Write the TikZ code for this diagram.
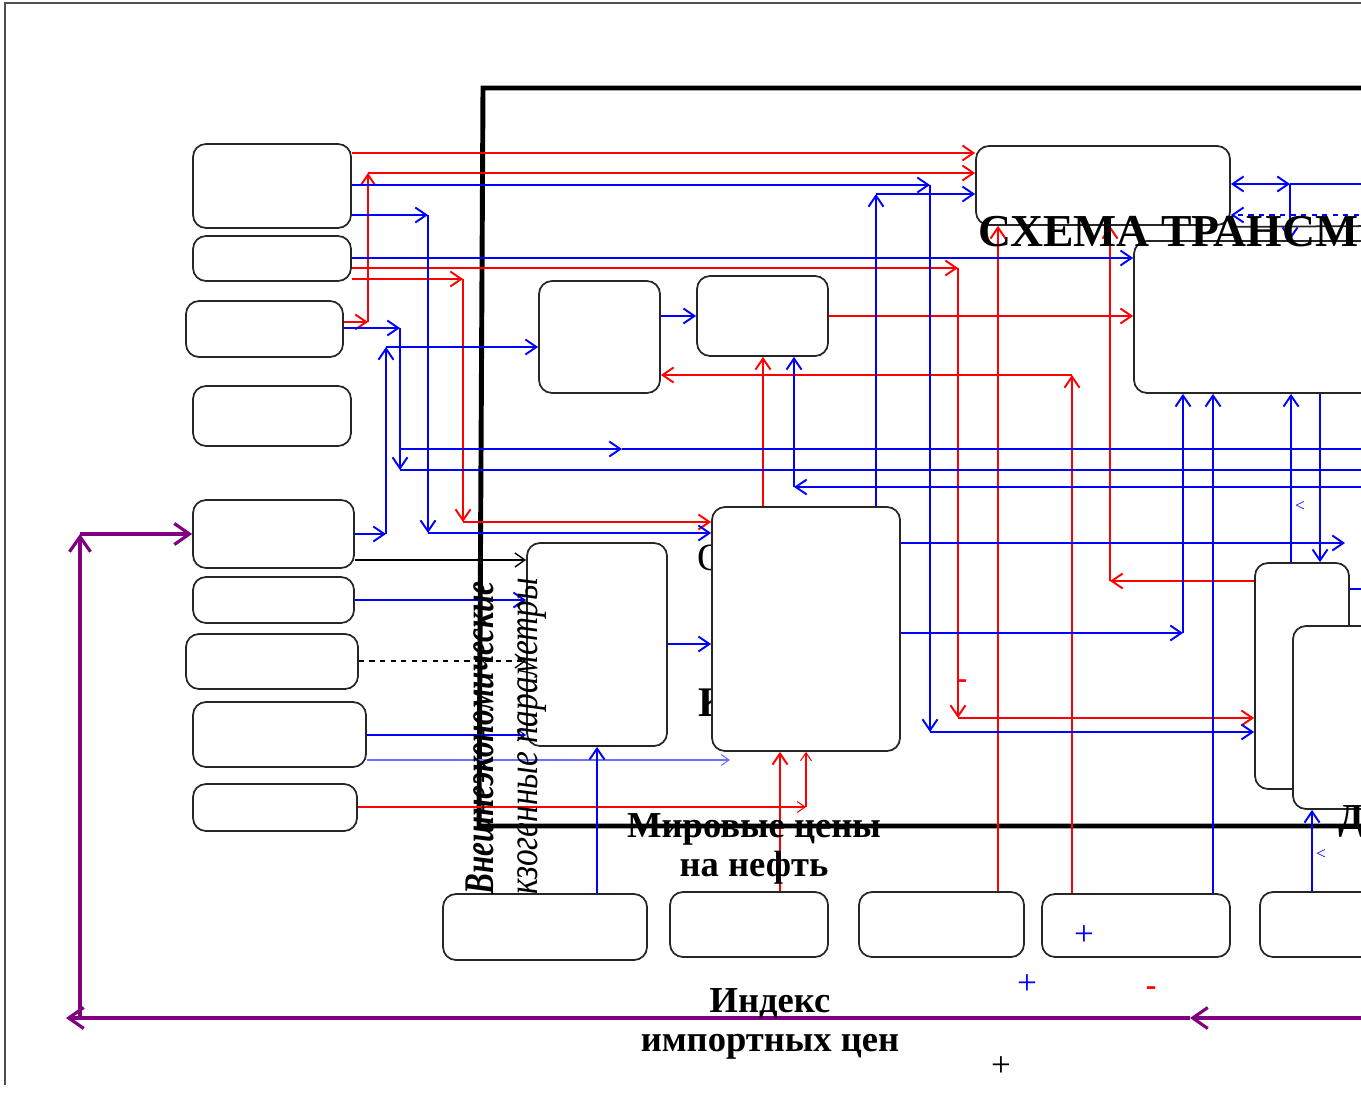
\documentclass[tikz,border=0pt]{standalone}
\usepackage{fontspec}
\setmainfont{Liberation Serif}
\newfontfamily\condA[FakeStretch=0.74]{Liberation Serif}
\newfontfamily\condB[FakeStretch=0.79]{Liberation Serif}
\usetikzlibrary{arrows.meta, fit, positioning}
\definecolor{linkRed}{RGB}{255,0,0}
\definecolor{linkBlue}{RGB}{0,0,255}
\definecolor{paleBlue}{RGB}{110,110,255}
\definecolor{loopPurple}{RGB}{128,0,128}
\definecolor{edgeGray}{RGB}{80,80,80}

\begin{document}
\begin{tikzpicture}[
  x=0.02cm, y=-0.02cm,
  block/.style={rectangle, rounded corners=0.26cm, draw=black!85, line width=1pt, fill=white, inner sep=0pt},
  redlink/.style={linkRed, line width=1.1pt, -{Straight Barb[length=2.2mm,width=3mm]}},
  bluelink/.style={linkBlue, line width=1.1pt, -{Straight Barb[length=2.2mm,width=3mm]}},
  plainlink/.style={black, line width=0.8pt, -{Straight Barb[length=2mm,width=2.8mm]}},
  thinlink/.style={line width=0.6pt, -{Straight Barb[length=1.6mm,width=2.2mm]}},
  feedback/.style={loopPurple, line width=1.8pt, -{Straight Barb[length=3mm,width=4.2mm]}},
  headline/.style={font=\fontsize{20.8}{22.5}\selectfont\bfseries, align=center, inner sep=0pt},
  signlabel/.style={font=\fontsize{20}{20}\selectfont, inner sep=0pt}
]
\useasboundingbox (0,0) rectangle (1361,1104);
\clip (0,0) rectangle (1361,1104);

% Text partly hidden behind the blocks
\node[font=\fontsize{22}{22}\selectfont, anchor=base west, inner sep=0pt] (hidO) at (697,570) {О};
\node[font=\fontsize{24}{24}\selectfont\bfseries, anchor=base west, inner sep=0pt] (hidK) at (698,716) {К};

% Blocks
\node (B1) [block, fit={(193,144) (351,228)}] {};
\node (B2) [block, fit={(193,236) (351,281)}] {};
\node (B3) [block, fit={(186,301) (343,357)}] {};
\node (B4) [block, fit={(193,386) (351,446)}] {};
\node (B5) [block, fit={(193,500) (354,568)}] {};
\node (B6) [block, fit={(193,577) (354,623)}] {};
\node (B7) [block, fit={(186,634) (358,689)}] {};
\node (B8) [block, fit={(193,702) (366,767)}] {};
\node (B9) [block, fit={(193,784) (357,831)}] {};
\node (M1) [block, fit={(539,281) (660,393)}] {};
\node (M2) [block, fit={(697,276) (828,356)}] {};
\node (M3) [block, fit={(527,543) (667,746)}] {};
\node (M4) [block, fit={(712,507) (900,751)}] {};
\node (T1) [block, fit={(976,146) (1230,225)}] {};
\node (T2) [block, fit={(1134,241) (1420,393)}] {};
\node (R1) [block, fit={(1255,563) (1349,789)}] {};
\node (R2) [block, fit={(1293,626) (1420,809)}] {};
\node (D1) [block, fit={(443,894) (647,960)}] {};
\node (D2) [block, fit={(670,892) (828,957)}] {};
\node (D3) [block, fit={(859,892) (1024,957)}] {};
\node (D4) [block, fit={(1042,894) (1230,957)}] {};
\node (D5) [block, fit={(1260,892) (1420,957)}] {};

% Frames
\draw[edgeGray, line width=0.6pt] (5,1085) -- (5,3) -- (1380,3);
\draw[line width=2.8pt] (1380,88) -- (483,88) -- (479,826) -- (1380,826);
\draw[black!85, line width=1pt] (T1.south east) ++(0,1) -- (1380,226);

% Red links
\coordinate (rTop) at (660,153);
\draw[redlink] (B1.east |- rTop) -- (T1.west |- rTop);
\coordinate (rA1) at (368,322);
\coordinate (rA2) at (368,173);
\draw[redlink] (B3.east |- rA1) -- (rA1);
\draw[redlink] (rA1) -- (rA2);
\draw[redlink] (rA2) -- (T1.west |- rA2);
\coordinate (rB1) at (958,268);
\coordinate (rB2) at (958,718);
\draw[redlink] (B2.east |- rB1) -- (rB1);
\draw[redlink] (rB1) -- (rB2);
\draw[redlink] (rB2) -- (R1.west |- rB2);
\coordinate (rC1) at (463,279);
\coordinate (rC2) at (463,522);
\draw[redlink] (B2.east |- rC1) -- (rC1);
\draw[redlink] (rC1) -- (rC2);
\draw[redlink] (rC2) -- (M4.west |- rC2);
\coordinate (rD) at (932,316);
\draw[redlink] (M2.east |- rD) -- (T2.west |- rD);
\coordinate (rE) at (1110,581);
\draw[redlink] (R1.west |- rE) -- (rE);
\draw[redlink] (rE) -- (T1.south -| rE);
\coordinate (rF) at (998,560);
\draw[redlink] (D3.north -| rF) -- (T1.south -| rF);
\coordinate (rG) at (1072,375);
\draw[redlink] (D4.north -| rG) -- (rG);
\draw[redlink] (rG) -- (M1.east |- rG);
\coordinate (rH) at (763,430);
\draw[redlink] (M4.north -| rH) -- (M2.south -| rH);
\coordinate (rJ) at (780,800);
\draw[redlink] (D2.north -| rJ) -- (M4.south -| rJ);
\coordinate (rK) at (806,807);
\draw[redlink, thinlink] (B9.east |- rK) -- (rK);
\draw[redlink, thinlink] (rK) -- (M4.south -| rK);

% Blue links
\coordinate (bA1) at (930,185);
\coordinate (bA2) at (930,732);
\draw[bluelink] (B1.east |- bA1) -- (bA1);
\draw[bluelink] (bA1) -- (bA2);
\draw[bluelink] (bA2) -- (R1.west |- bA2);
\coordinate (bB) at (876,194);
\draw[bluelink] (M4.north -| bB) -- (bB);
\draw[bluelink] (bB) -- (T1.west |- bB);
\coordinate (bC1) at (428,215);
\coordinate (bC2) at (428,533);
\draw[bluelink] (B1.east |- bC1) -- (bC1);
\draw[bluelink] (bC1) -- (bC2);
\draw[bluelink] (bC2) -- (M4.west |- bC2);
\coordinate (bD) at (560,258);
\draw[bluelink] (B2.east |- bD) -- (T2.west |- bD);
\coordinate (bE1) at (400,328);
\coordinate (bE2) at (400,470);
\coordinate (bE3) at (400,449);
\coordinate (bE4) at (622,449);
\coordinate (bEnd1) at (1380,449);
\coordinate (bEnd2) at (1380,470);
\draw[bluelink] (B3.east |- bE1) -- (bE1);
\draw[bluelink] (bE1) -- (bE2);
\draw[bluelink] (bE3) -- (bE4);
\draw[bluelink, -] (bE4) -- (bEnd1);
\draw[bluelink, -] (bE2) -- (bEnd2);
\coordinate (bF1) at (386,534);
\coordinate (bF2) at (386,347);
\draw[bluelink] (B5.east |- bF1) -- (bF1);
\draw[bluelink] (bF1) -- (bF2);
\draw[bluelink] (bF2) -- (M1.west |- bF2);
\coordinate (bG) at (450,600);
\draw[bluelink] (B6.east |- bG) -- (M3.west |- bG);
\coordinate (kA) at (450,560);
\draw[plainlink] (B5.east |- kA) -- (M3.west |- kA);
\coordinate (kB) at (460,661);
\draw[plainlink, dashed] (B7.east |- kB) -- (M3.west |- kB);
\coordinate (bH) at (450,735);
\draw[bluelink, thinlink] (B8.east |- bH) -- (M3.west |- bH);
\coordinate (bI) at (730,760);
\draw[paleBlue, thinlink] (B8.east |- bI) -- (bI);
\coordinate (bJ) at (597,800);
\draw[bluelink] (D1.north -| bJ) -- (M3.south -| bJ);
\coordinate (bK) at (690,644);
\draw[bluelink] (M3.east |- bK) -- (M4.west |- bK);
\coordinate (bL) at (680,316);
\draw[bluelink] (M1.east |- bL) -- (M2.west |- bL);
\coordinate (bM) at (794,487);
\coordinate (bEnd3) at (1380,487);
\draw[bluelink] (bEnd3) -- (bM);
\draw[bluelink] (bM) -- (M2.south -| bM);
\coordinate (bN) at (1345,543);
\draw[bluelink] (M4.east |- bN) -- (bN);
\coordinate (bO) at (1183,633);
\draw[bluelink] (M4.east |- bO) -- (bO);
\draw[bluelink] (bO) -- (T2.south -| bO);
\coordinate (bP) at (1213,640);
\draw[bluelink] (D4.north -| bP) -- (T2.south -| bP);
\coordinate (bQ) at (1291,480);
\draw[bluelink] (R1.north -| bQ) -- (T2.south -| bQ);
\coordinate (bR) at (1320,480);
\draw[bluelink] (T2.south -| bR) -- (R1.north -| bR);
\coordinate (bS) at (1380,589);
\draw[bluelink, -] (R1.east |- bS) -- (bS);
\coordinate (bT) at (1312,850);
\draw[bluelink] (D5.north -| bT) -- (R2.south -| bT);
\coordinate (bU) at (1290,184);
\coordinate (bEnd4) at (1380,184);
\draw[bluelink, {Straight Barb[length=2.2mm,width=3mm]}-{Straight Barb[length=2.2mm,width=3mm]}] (T1.east |- bU) -- (bU);
\draw[bluelink, -] (bU) -- (bEnd4);
\draw[bluelink] (bU) -- (T2.north -| bU);
\coordinate (bV) at (1380,215);
\draw[bluelink, dashed] (bV) -- (T1.east |- bV);

% Import price loop
\coordinate (pA) at (80,1018);
\coordinate (pB) at (80,534);
\coordinate (pC) at (1190,1018);
\coordinate (pD) at (66,1018);
\coordinate (pEnd) at (1380,1018);
\draw[feedback] (pA) -- (pB);
\draw[feedback] (pB) -- (B5.west |- pB);
\draw[feedback] (pEnd) -- (pC);
\draw[feedback] (pC) -- (pD);

% Labels
\node[rotate=90, anchor=west, inner sep=0pt, font=\fontsize{24}{24}\condA\bfseries\itshape] (extA) at (480,895) {Внешнеэкономические};
\node[rotate=90, anchor=west, inner sep=0pt, font=\fontsize{24}{24}\condB\itshape] (extB) at (532,895) {кзогенные параметры};
\node[headline, font=\fontsize{26}{26}\selectfont\bfseries, anchor=base west] (scheme) at (978,247) {СХЕМА ТРАНСМ};
\node[headline, anchor=north] (oil) at (754,813) {Мировые цены\\на нефть};
\node[headline, anchor=north] (imp) at (770,988) {Индекс\\импортных цен};
\node[headline, anchor=base west] (partD) at (1338,829) {Д};
\node[signlabel, text=linkBlue] (plusA) at (1084,936) {+};
\node[signlabel, text=linkBlue] (plusB) at (1027,985) {+};
\node[signlabel] (plusC) at (1001,1067) {+};
\node[signlabel, text=linkRed, font=\fontsize{18}{18}\selectfont\bfseries] (minusA) at (1151,991) {-};
\node[signlabel, text=linkRed, font=\fontsize{18}{18}\selectfont\bfseries] (minusB) at (962,684) {-};
\node[signlabel, text=linkBlue, font=\fontsize{10}{10}\selectfont] (ltA) at (1300,506) {<};
\node[signlabel, text=linkBlue, font=\fontsize{10}{10}\selectfont] (ltB) at (1321,854) {<};
\end{tikzpicture}
\end{document}
